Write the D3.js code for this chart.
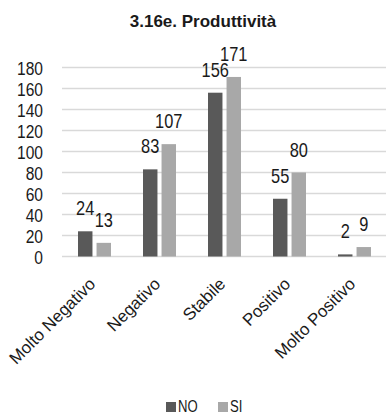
<!DOCTYPE html>
<html>
<head>
<meta charset="utf-8">
<script src="https://cdn.jsdelivr.net/npm/d3@7"></script>
<style>
  html, body { margin: 0; padding: 0; background: #fff; }
  svg { display: block; }
  text { font-family: "Liberation Sans", Arial, sans-serif; }
</style>
</head>
<body>
<div id="chart"></div>
<script>
// Categories, series and values
const categories = ["Molto Negativo", "Negativo", "Stabile", "Positivo", "Molto Positivo"];
const seriesNames = ["NO", "SI"];
const valuesNO = [24, 83, 156, 55, 2];
const valuesSI = [13, 107, 171, 80, 9];
const yTicks = [0, 20, 40, 60, 80, 100, 120, 140, 160, 180];
const colors = ["#595959", "#a8a8a8"];
const title = "3.16e. Produttività";

const W = 386, H = 412;
const NARROW = 0.82; // horizontal squeeze for the condensed numeric face
const svg = d3.select("#chart").append("svg").attr("width", W).attr("height", H);

const y = d3.scaleLinear().domain([0, 180]).range([256.5, 67.5]);
const x0 = d3.scaleBand().domain(categories).range([62, 387]).padding(0);
const x1 = d3.scaleBand().domain(seriesNames).range([16, 49]).paddingInner(0.22);
const color = d3.scaleOrdinal().domain(seriesNames).range(colors);

// Title
svg.append("text")
  .attr("x", 203).attr("y", 27)
  .attr("text-anchor", "middle")
  .attr("font-weight", "bold")
  .attr("font-size", 17)
  .attr("fill", "#1a1a1a")
  .text(title);

// Gridlines
svg.append("g").selectAll("line").data(yTicks).join("line")
  .attr("x1", 62).attr("x2", 386)
  .attr("y1", d => y(d)).attr("y2", d => y(d))
  .attr("stroke", "#d9d9d9").attr("stroke-width", 1.5);

// Y axis tick labels
svg.append("g").selectAll("text").data(yTicks).join("text")
  .attr("transform", d => `translate(43,${y(d)}) scale(${NARROW},1)`)
  .attr("dy", "0.42em")
  .attr("text-anchor", "end")
  .attr("font-size", 19)
  .attr("fill", "#1a1a1a")
  .text(d => d);

// Bars
const rows = categories.map((c, i) => ({ cat: c, vals: [valuesNO[i], valuesSI[i]] }));
const groups = svg.append("g").selectAll("g").data(rows).join("g")
  .attr("transform", d => `translate(${x0(d.cat)},0)`);

groups.selectAll("rect")
  .data(d => d.vals.map((v, j) => ({ s: seriesNames[j], v })))
  .join("rect")
  .attr("x", d => x1(d.s))
  .attr("width", x1.bandwidth())
  .attr("y", d => y(d.v))
  .attr("height", d => y(0) - y(d.v))
  .attr("fill", d => color(d.s));

// Value labels
groups.selectAll("text")
  .data(d => d.vals.map((v, j) => ({ s: seriesNames[j], v })))
  .join("text")
  .attr("transform", d => `translate(${x1(d.s) + x1.bandwidth() / 2},${y(d.v) - 16}) scale(${NARROW},1)`)
  .attr("text-anchor", "middle")
  .attr("font-size", 20)
  .attr("fill", "#1a1a1a")
  .text(d => d.v);

// X axis category labels (rotated)
svg.append("g").selectAll("text").data(categories).join("text")
  .attr("transform", d => `translate(${x0(d) + x0.bandwidth() / 2 + 2},285) rotate(-45)`)
  .attr("text-anchor", "end")
  .attr("font-size", 17)
  .attr("fill", "#1a1a1a")
  .text(d => d);

// Legend
const legendX = [166, 218];
const leg = svg.append("g").selectAll("g").data(seriesNames).join("g")
  .attr("transform", (d, i) => `translate(${legendX[i]},0)`);
leg.append("rect")
  .attr("x", 0).attr("y", 402).attr("width", 10).attr("height", 10)
  .attr("fill", d => color(d));
leg.append("text")
  .attr("transform", "translate(12,412) scale(" + NARROW + ",1)")
  .attr("font-size", 16)
  .attr("fill", "#1a1a1a")
  .text(d => d);
</script>
</body>
</html>
